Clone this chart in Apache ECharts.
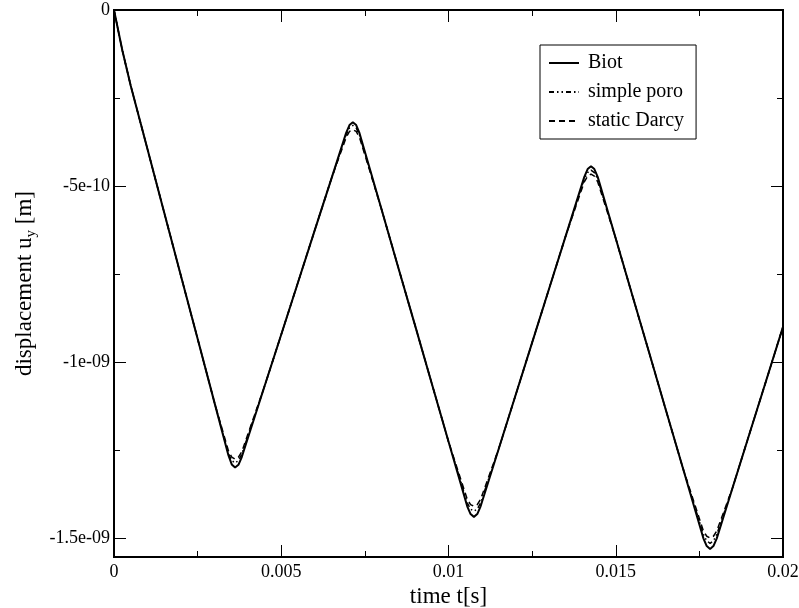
<!DOCTYPE html>
<html>
<head>
<meta charset="utf-8">
<script src="https://cdn.jsdelivr.net/npm/echarts@6/dist/echarts.min.js"></script>
<style>
  html, body { margin: 0; padding: 0; background: #fff; }
  #chart { width: 799px; height: 608px; }
</style>
</head>
<body>
<div id="chart"></div>
<script>
// time [s]
var timeS = [
  0, 0.00025, 0.0005, 0.001, 0.0015, 0.002, 0.0025, 0.003,
  0.00342, 0.00352, 0.00362, 0.00372, 0.00382,
  0.0045, 0.005, 0.0055, 0.006, 0.0065,
  0.00694, 0.00704, 0.00714, 0.00724, 0.00734,
  0.008, 0.0085, 0.009, 0.0095, 0.01,
  0.01056, 0.01066, 0.01076, 0.01086, 0.01096,
  0.0115, 0.012, 0.0125, 0.013, 0.0135,
  0.01406, 0.01416, 0.01426, 0.01436, 0.01446,
  0.015, 0.0155, 0.016, 0.0165, 0.017,
  0.01762, 0.01772, 0.01782, 0.01792, 0.01802,
  0.0185, 0.019, 0.0195, 0.02
]
// displacement u_y in units of 1e-10 m
var biot = [
  0, -1.15, -2.15, -3.95, -5.75, -7.55, -9.34, -11.14,
  -12.65, -12.91, -13.0, -12.92, -12.7,
  -10.69, -9.22, -7.74, -6.26, -4.79,
  -3.49, -3.27, -3.19, -3.27, -3.5,
  -5.67, -7.32, -8.96, -10.61, -12.26,
  -14.1, -14.32, -14.4, -14.32, -14.1,
  -12.47, -10.96, -9.45, -7.94, -6.43,
  -4.74, -4.52, -4.44, -4.52, -4.74,
  -6.49, -8.12, -9.74, -11.37, -12.99,
  -15.01, -15.23, -15.31, -15.23, -15.01,
  -13.55, -12.03, -10.52, -9.0
]
var simplePoro = [
  0, -1.15, -2.15, -3.95, -5.75, -7.55, -9.34, -11.14,
  -12.6, -12.8, -12.87, -12.8, -12.62,
  -10.69, -9.22, -7.74, -6.26, -4.79,
  -3.55, -3.35, -3.28, -3.35, -3.56,
  -5.67, -7.32, -8.96, -10.61, -12.26,
  -14.0, -14.18, -14.24, -14.18, -14.0,
  -12.47, -10.96, -9.45, -7.94, -6.43,
  -4.8, -4.62, -4.55, -4.62, -4.8,
  -6.49, -8.12, -9.74, -11.37, -12.99,
  -14.9, -15.08, -15.15, -15.08, -14.9,
  -13.55, -12.03, -10.52, -9.0
]
var staticDarcy = [
  0, -1.15, -2.15, -3.95, -5.75, -7.55, -9.34, -11.14,
  -12.52, -12.7, -12.76, -12.7, -12.55,
  -10.69, -9.22, -7.74, -6.26, -4.79,
  -3.62, -3.45, -3.4, -3.45, -3.62,
  -5.67, -7.32, -8.96, -10.61, -12.26,
  -13.9, -14.05, -14.1, -14.05, -13.9,
  -12.47, -10.96, -9.45, -7.94, -6.43,
  -4.88, -4.72, -4.66, -4.72, -4.88,
  -6.49, -8.12, -9.74, -11.37, -12.99,
  -14.8, -14.95, -15.0, -14.95, -14.8,
  -13.55, -12.03, -10.52, -9.0
]

var xMajor = [0, 0.005, 0.01, 0.015, 0.02]
var xMinor = [0.0025, 0.0075, 0.0125, 0.0175]
var xLabels = ['0', '0.005', '0.01', '0.015', '0.02']
var yMajor = [0, -5, -10, -15]
var yMinor = [-2.5, -7.5, -12.5]
var yLabels = ['0', '-5e-10', '-1e-09', '-1.5e-09']

var FONT = 'Liberation Serif'
var yMin = -15.54

function pairs(vals) {
  return timeS.map(function (t, i) { return [t, vals[i]] })
}

function xAxisDef(pos, values, len, labels) {
  return {
    type: 'value', min: 0, max: 0.02, position: pos,
    axisLine: { show: true, onZero: false, lineStyle: { color: '#000', width: 2 } },
    axisTick: { show: true, inside: true, length: len, customValues: values, lineStyle: { color: '#000', width: 1 } },
    axisLabel: labels ? {
      show: true, customValues: xMajor, margin: 6, color: '#000', fontFamily: FONT, fontSize: 18,
      formatter: function (v) { return xLabels[xMajor.indexOf(v)] }
    } : { show: false },
    splitLine: { show: false }
  }
}

function yAxisDef(pos, values, len, labels) {
  return {
    type: 'value', min: yMin, max: 0, position: pos,
    axisLine: { show: true, onZero: false, lineStyle: { color: '#000', width: 2 } },
    axisTick: { show: true, inside: true, length: len, customValues: values, lineStyle: { color: '#000', width: 1 } },
    axisLabel: labels ? {
      show: true, customValues: yMajor, margin: 4, color: '#000', fontFamily: FONT, fontSize: 18,
      formatter: function (v) { return yLabels[yMajor.indexOf(v)] }
    } : { show: false },
    splitLine: { show: false }
  }
}

var chart = echarts.init(document.getElementById('chart'))

var xMain = xAxisDef('bottom', xMajor, 12, true)
xMain.name = 'time t[s]'
xMain.nameLocation = 'middle'
xMain.nameGap = 26
xMain.nameTextStyle = { color: '#000', fontFamily: FONT, fontSize: 23 }

var yMain = yAxisDef('left', yMajor, 12, true)
yMain.name = 'displacement u{sub|y} [m]'
yMain.nameLocation = 'middle'
yMain.nameGap = 71
yMain.nameTextStyle = {
  color: '#000', fontFamily: FONT, fontSize: 23,
  rich: { sub: { fontFamily: FONT, fontSize: 15, color: '#000', verticalAlign: 'bottom', padding: [12, 0, 0, 0] } }
}

chart.setOption({
  animation: false,
  grid: { left: 114, right: 16, top: 10, bottom: 51, containLabel: false, outerBoundsMode: 'none' },
  legend: {
    orient: 'vertical',
    left: 540, top: 45,
    padding: [8, 12, 8, 8],
    itemGap: 9,
    itemWidth: 30,
    itemHeight: 14,
    borderColor: '#000',
    borderWidth: 1,
    itemStyle: { opacity: 0 },
    textStyle: { color: '#000', fontFamily: FONT, fontSize: 20, padding: [0, 0, 0, 4] },
    data: ['Biot', 'simple poro', 'static Darcy']
  },
  xAxis: [
    xMain,
    xAxisDef('bottom', xMinor, 6, false),
    xAxisDef('top', xMajor, 12, false),
    xAxisDef('top', xMinor, 6, false)
  ],
  yAxis: [
    yMain,
    yAxisDef('left', yMinor, 6, false),
    yAxisDef('right', yMajor, 12, false),
    yAxisDef('right', yMinor, 6, false)
  ],
  series: [
    {
      name: 'Biot', type: 'line', symbol: 'none', data: pairs(biot),
      lineStyle: { color: '#000', width: 2, type: 'solid' }, itemStyle: { color: '#000' }
    },
    {
      name: 'simple poro', type: 'line', symbol: 'none', data: pairs(simplePoro),
      lineStyle: { color: '#000', width: 1.5, type: [5, 3, 1.5, 3, 1.5, 3] }, itemStyle: { color: '#000' }
    },
    {
      name: 'static Darcy', type: 'line', symbol: 'none', data: pairs(staticDarcy),
      lineStyle: { color: '#000', width: 1.5, type: [6, 4] }, itemStyle: { color: '#000' }
    }
  ]
})
</script>
</body>
</html>
